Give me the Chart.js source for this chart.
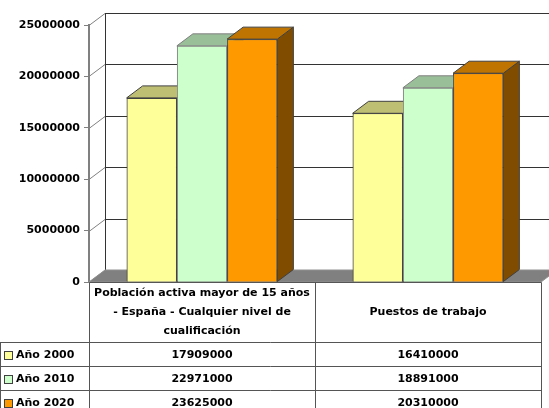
<!DOCTYPE html>
<html>
<head>
<meta charset="utf-8">
<script src="https://cdn.jsdelivr.net/npm/chart.js@4"></script>
<style>
  body { margin: 0; background: #fff; }
  canvas { display: block; }
</style>
</head>
<body>
<canvas id="chart" width="549" height="408"></canvas>
<script>
// categories (header lines of the data table)
var categories = [
    ['Población activa mayor de 15 años', '- España - Cualquier nivel de', 'cualificación'],
    ['Puestos de trabajo']
];
var seriesNames = ['Año 2000', 'Año 2010', 'Año 2020'];
var values2000 = [17909000, 16410000];
var values2010 = [22971000, 18891000];
var values2020 = [23625000, 20310000];
var yMin = 0, yMax = 25000000, yStep = 5000000;

var frontColors = ['#FFFF99', '#CCFFCC', '#FF9900'];
var topColors = ['#BFBF73', '#99BF99', '#BF7300'];
var sideColors = ['#7F7F4C', '#667F66', '#7F4C00'];
var edgeColors = ['#404040', '#7F7F7F', '#404040'];

var FONT = 'bold 11px "DejaVu Sans"';
var DX = 16, DY = -12; // depth of the 3d box

function line(ctx, x1, y1, x2, y2) {
    ctx.beginPath();
    ctx.moveTo(x1, y1);
    ctx.lineTo(x2, y2);
    ctx.stroke();
}

function poly(ctx, pts, fill, stroke) {
    ctx.beginPath();
    ctx.moveTo(pts[0][0], pts[0][1]);
    for (var i = 1; i < pts.length; i++) ctx.lineTo(pts[i][0], pts[i][1]);
    ctx.closePath();
    ctx.fillStyle = fill;
    ctx.fill();
    if (stroke) {
        ctx.strokeStyle = stroke;
        ctx.lineWidth = 1;
        ctx.stroke();
    }
}

var threeD = {
    id: 'threeD',
    beforeDatasetsDraw: function (chart) {
        var ctx = chart.ctx, a = chart.chartArea, y = chart.scales.y;
        ctx.save();
        ctx.lineWidth = 1;
        // walls: diagonals on the left wall, gridlines on the back wall
        y.ticks.forEach(function (t) {
            var py = Math.round(y.getPixelForValue(t.value)) + 0.5;
            ctx.strokeStyle = '#808080';
            line(ctx, a.left, py, a.left + DX, py + DY);
            ctx.strokeStyle = '#333333';
            line(ctx, a.left + DX, py + DY, chart.width, py + DY);
        });
        ctx.strokeStyle = '#333333';
        line(ctx, a.left + DX + 0.5, a.top + DY, a.left + DX + 0.5, a.bottom + DY);
        // floor
        poly(ctx, [[a.left, a.bottom], [a.left + DX, a.bottom + DY], [a.right + DX, a.bottom + DY], [a.right, a.bottom]], '#808080', '#909090');
        ctx.restore();
    },
    afterDatasetsDraw: function (chart) {
        var ctx = chart.ctx;
        ctx.save();
        for (var j = 0; j < categories.length; j++) {
            for (var i = 0; i < chart.data.datasets.length; i++) {
                var bar = chart.getDatasetMeta(i).data[j];
                var p = bar.getProps(['x', 'y', 'width', 'base'], true);
                var l = p.x - p.width / 2, r = p.x + p.width / 2;
                poly(ctx, [[r, p.y], [r + DX, p.y + DY], [r + DX, p.base + DY], [r, p.base]], sideColors[i], edgeColors[i]);
                poly(ctx, [[l, p.y], [l + DX, p.y + DY], [r + DX, p.y + DY], [r, p.y]], topColors[i], edgeColors[i]);
                bar.draw(ctx);
            }
        }
        ctx.restore();
    },
    afterDraw: function (chart) {
        var ctx = chart.ctx, a = chart.chartArea, x = chart.scales.x;
        var sets = chart.data.datasets;
        var mid = Math.round((x.getPixelForValue(0) + x.getPixelForValue(1)) / 2) + 0.5;
        var L = Math.round(a.left) + 0.5, R = Math.round(a.right) + 0.5, T = Math.round(a.bottom) + 0.5;
        var headBottom = 342.5, rowH = 24;
        ctx.save();
        ctx.lineWidth = 1;
        ctx.strokeStyle = '#555555';
        line(ctx, L, T, R, T);
        [L, mid, R].forEach(function (cx) { line(ctx, cx, T, cx, chart.height); });
        line(ctx, 0.5, headBottom, 0.5, chart.height);
        for (var k = 0; k < sets.length; k++) {
            line(ctx, 0, headBottom + k * rowH, R, headBottom + k * rowH);
        }
        ctx.font = FONT;
        ctx.fillStyle = '#000';
        ctx.textAlign = 'center';
        ctx.textBaseline = 'middle';
        var lh = 19, headMid = (T + headBottom) / 2;
        categories.forEach(function (lines, j) {
            var cx = x.getPixelForValue(j);
            var y0 = headMid - (lines.length - 1) * lh / 2;
            lines.forEach(function (s, n) { ctx.fillText(s, cx, y0 + n * lh); });
            sets.forEach(function (ds, k) {
                ctx.fillText(String(ds.data[j]), cx, headBottom + k * rowH + rowH / 2 + 1);
            });
        });
        // legend keys in the first column
        ctx.textAlign = 'left';
        sets.forEach(function (ds, k) {
            var cy = headBottom + k * rowH + rowH / 2;
            ctx.fillStyle = frontColors[k];
            ctx.fillRect(4.5, Math.round(cy - 4) + 0.5, 8, 8);
            ctx.strokeStyle = '#404040';
            ctx.strokeRect(4.5, Math.round(cy - 4) + 0.5, 8, 8);
            ctx.fillStyle = '#000';
            ctx.fillText(ds.label, 16, cy + 1);
        });
        ctx.restore();
    }
};

var seriesValues = [values2000, values2010, values2020];

new Chart(document.getElementById('chart'), {
    type: 'bar',
    data: {
        labels: categories,
        datasets: seriesNames.map(function (name, i) {
            return {
                label: name,
                data: seriesValues[i],
                backgroundColor: frontColors[i],
                borderColor: edgeColors[i],
                borderWidth: 1,
                categoryPercentage: 0.667,
                barPercentage: 1
            };
        })
    },
    options: {
        responsive: false,
        animation: false,
        layout: { padding: { left: 0, right: 8, top: 25, bottom: 126 } },
        plugins: { legend: { display: false }, tooltip: { enabled: false } },
        scales: {
            x: { display: false },
            y: {
                min: yMin,
                max: yMax,
                afterFit: function (s) { s.width = 89; },
                ticks: {
                    stepSize: yStep,
                    color: '#000',
                    font: { family: 'DejaVu Sans', size: 11, weight: 'bold' },
                    padding: 4,
                    callback: function (v) { return String(v); }
                },
                grid: { drawOnChartArea: false, drawTicks: true, tickLength: 5, color: '#808080' },
                border: { display: true, color: '#808080', width: 2 }
            }
        }
    },
    plugins: [threeD]
});
</script>
</body>
</html>
